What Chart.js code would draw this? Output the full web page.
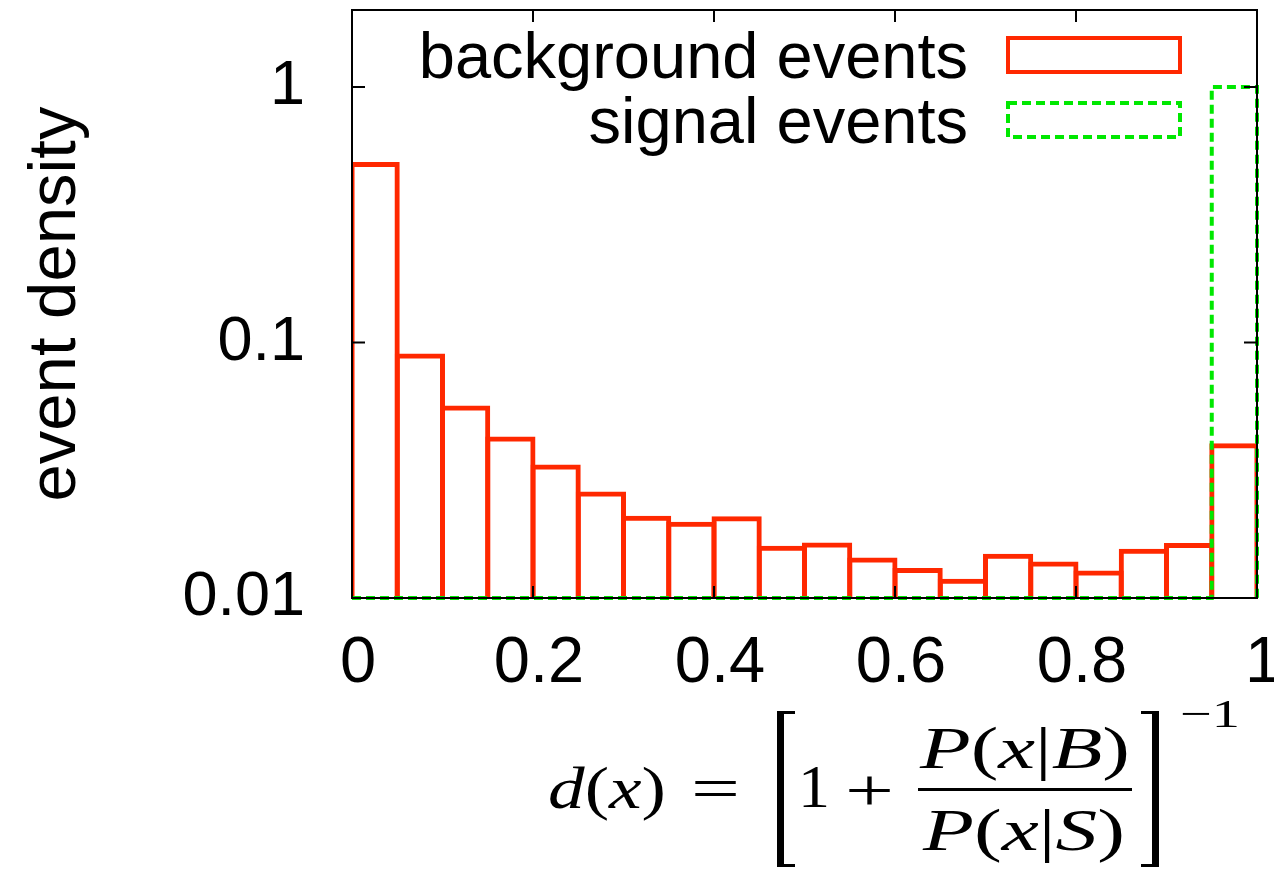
<!DOCTYPE html>
<html>
<head>
<meta charset="utf-8">
<script src="https://cdn.jsdelivr.net/npm/chart.js@4.4.1/dist/chart.umd.min.js"></script>
<style>
  html, body { margin: 0; padding: 0; background: #fff; }
  #wrap { position: relative; width: 1274px; height: 870px; overflow: hidden; }
  #chart { position: absolute; left: 0; top: 0; }
  #formula .f {
    position: absolute;
    font-family: 'Liberation Serif', 'DejaVu Serif', serif;
    line-height: 1;
    white-space: nowrap;
    transform-origin: 0 0;
    color: #000;
  }
  #formula .br { position: absolute; border-color: #000; border-style: solid; box-sizing: border-box; }
  #formula .brl { left: 777px; top: 711px; width: 18px; height: 156px; border-width: 3px 0 3px 7px; }
  #formula .brr { left: 1141px; top: 711px; width: 18px; height: 156px; border-width: 3px 7px 3px 0; }
  #formula .bar { position: absolute; left: 918px; top: 788px; width: 214px; height: 3px; background: #000; }
</style>
</head>
<body>
<div id="wrap">
  <canvas id="chart" width="1274" height="870"></canvas>
  <div id="formula">
    <span class="f" data-l="548" data-r="666" data-b="808" data-s="60"><i>d</i>(<i>x</i>)</span>
    <span class="f" data-l="691" data-r="740" data-b="808" data-s="60">=</span>
    <div class="br brl"></div>
    <span class="f" data-l="798" data-r="830" data-b="807" data-s="62">1</span>
    <span class="f" data-l="845" data-r="894" data-b="810" data-s="60">+</span>
    <span class="f" data-l="920" data-r="1130" data-b="768" data-s="60"><i>P</i>(<i>x</i>|<i>B</i>)</span>
    <div class="bar"></div>
    <span class="f" data-l="923" data-r="1125" data-b="850" data-s="60"><i>P</i>(<i>x</i>|<i>S</i>)</span>
    <div class="br brr"></div>
    <span class="f" data-l="1180" data-r="1240" data-b="727" data-s="40">&minus;1</span>
  </div>
</div>
<script>
// histogram bins (left edges), width 0.05
const binStart = [0, 0.05, 0.1, 0.15, 0.2, 0.25, 0.3, 0.35, 0.4, 0.45,
                  0.5, 0.55, 0.6, 0.65, 0.7, 0.75, 0.8, 0.85, 0.9, 0.95];
const binWidth = 0.05;

const background = [0.508, 0.0906, 0.0567, 0.0429, 0.0333, 0.0261, 0.0210, 0.0199, 0.0209, 0.0160,
                    0.0165, 0.0144, 0.0131, 0.0119, 0.0149, 0.0139, 0.0128, 0.0156, 0.0164, 0.0403];
const signal = [0, 0, 0, 0, 0, 0, 0, 0, 0, 0,
                0, 0, 0, 0, 0, 0, 0, 0, 0, 1.0];

const xTickValues = [0, 0.2, 0.4, 0.6, 0.8, 1];
const xTickLabels = ['0', '0.2', '0.4', '0.6', '0.8', '1'];
const yTickValues = [0.01, 0.1, 1];
const yTickLabels = ['0.01', '0.1', '1'];

const yMin = 0.01, yMax = 2;
const red = '#ff2800';
const green = '#00e800';

// outline of the signal histogram (zero bins sit on the axis floor)
const signalOutline = [{x: binStart[0], y: yMin}];
binStart.forEach((s, i) => {
    const v = Math.max(signal[i], yMin);
    signalOutline.push({x: s, y: v});
    signalOutline.push({x: s + binWidth, y: v});
});
signalOutline.push({x: binStart[binStart.length - 1] + binWidth, y: yMin});

const frameTicks = {
    id: 'frameTicks',
    afterDatasetsDraw(chart) {
        const {ctx, chartArea: a, scales: {x, y}} = chart;
        ctx.save();
        ctx.strokeStyle = '#000';
        ctx.lineWidth = 2;
        ctx.beginPath();
        y.ticks.forEach(t => {
            const py = y.getPixelForValue(t.value);
            const lg = Math.log10(t.value);
            const len = Math.abs(lg - Math.round(lg)) < 1e-6 ? 13 : 7;
            ctx.moveTo(a.left, py); ctx.lineTo(a.left + len, py);
            ctx.moveTo(a.right, py); ctx.lineTo(a.right - len, py);
        });
        x.ticks.forEach(t => {
            const px = x.getPixelForValue(t.value);
            ctx.moveTo(px, a.bottom); ctx.lineTo(px, a.bottom - 12);
            ctx.moveTo(px, a.top); ctx.lineTo(px, a.top + 12);
        });
        ctx.stroke();
        ctx.strokeRect(a.left, a.top, a.right - a.left, a.bottom - a.top);
        ctx.restore();
    }
};

const keyBox = {
    id: 'keyBox',
    afterDraw(chart) {
        const {ctx} = chart;
        const rows = [55, 120];
        chart.data.datasets.forEach((ds, i) => {
            const cy = rows[i];
            ctx.save();
            ctx.font = '65px "Liberation Sans", Arial, sans-serif';
            ctx.fillStyle = '#000';
            ctx.textAlign = 'right';
            ctx.textBaseline = 'alphabetic';
            ctx.fillText(ds.label, 968, cy + 23);
            ctx.strokeStyle = ds.borderColor;
            ctx.lineWidth = 4;
            ctx.setLineDash(ds.borderDash || []);
            ctx.strokeRect(1008, cy - 17, 172, 34);
            ctx.restore();
        });
    }
};

Chart.defaults.font.family = '"Liberation Sans", Arial, sans-serif';
Chart.defaults.color = '#000';

new Chart(document.getElementById('chart'), {
    data: {
        datasets: [
            {
                type: 'bar',
                label: 'background events',
                data: binStart.map((s, i) => ({x: s + binWidth / 2, y: background[i]})),
                backgroundColor: 'rgba(0,0,0,0)',
                borderColor: red,
                borderWidth: 5,
                borderSkipped: 'start',
                categoryPercentage: 1,
                barPercentage: 1.11,
                order: 2
            },
            {
                type: 'line',
                label: 'signal events',
                data: signalOutline,
                borderColor: green,
                borderWidth: 4,
                borderDash: [9, 5],
                pointRadius: 0,
                tension: 0,
                fill: false,
                clip: 6,
                order: 1
            }
        ]
    },
    options: {
        responsive: false,
        animation: false,
        layout: {padding: {left: 0, right: 17, top: 10, bottom: 0}},
        plugins: {legend: {display: false}, tooltip: {enabled: false}},
        scales: {
            x: {
                type: 'linear',
                min: 0,
                max: 1,
                offset: false,
                grid: {display: false, drawTicks: false, offset: false},
                border: {display: false},
                ticks: {
                    stepSize: 0.2,
                    autoSkip: false,
                    maxRotation: 0,
                    padding: 27,
                    labelOffset: 6,
                    font: {size: 65},
                    callback: v => {
                        const i = xTickValues.findIndex(t => Math.abs(t - v) < 1e-9);
                        return i >= 0 ? xTickLabels[i] : null;
                    }
                },
                afterFit: s => { s.height = 272; s.paddingLeft = 0; s.paddingRight = 0; }
            },
            y: {
                type: 'logarithmic',
                min: yMin,
                max: yMax,
                grid: {display: false, drawTicks: false},
                border: {display: false},
                ticks: {
                    autoSkip: false,
                    padding: 47,
                    font: {size: 63},
                    callback: v => {
                        const i = yTickValues.findIndex(t => Math.abs(t - v) < 1e-9);
                        return i >= 0 ? yTickLabels[i] : null;
                    }
                },
                title: {
                    display: true,
                    text: 'event density',
                    font: {size: 67},
                    padding: {top: 16, bottom: 0}
                },
                afterFit: s => { s.width = 352; s.paddingTop = 0; s.paddingBottom = 0; }
            }
        }
    },
    plugins: [frameTicks, keyBox]
});

// place the x-axis formula pieces
document.querySelectorAll('#formula .f').forEach(el => {
    const size = +el.dataset.s;
    const l = +el.dataset.l, r = +el.dataset.r, b = +el.dataset.b;
    el.style.fontSize = size + 'px';
    el.style.left = l + 'px';
    el.style.top = (b - 0.8375 * size) + 'px';
    const w = el.getBoundingClientRect().width;
    el.style.transform = 'scaleX(' + ((r - l) / w).toFixed(3) + ')';
});
</script>
</body>
</html>
